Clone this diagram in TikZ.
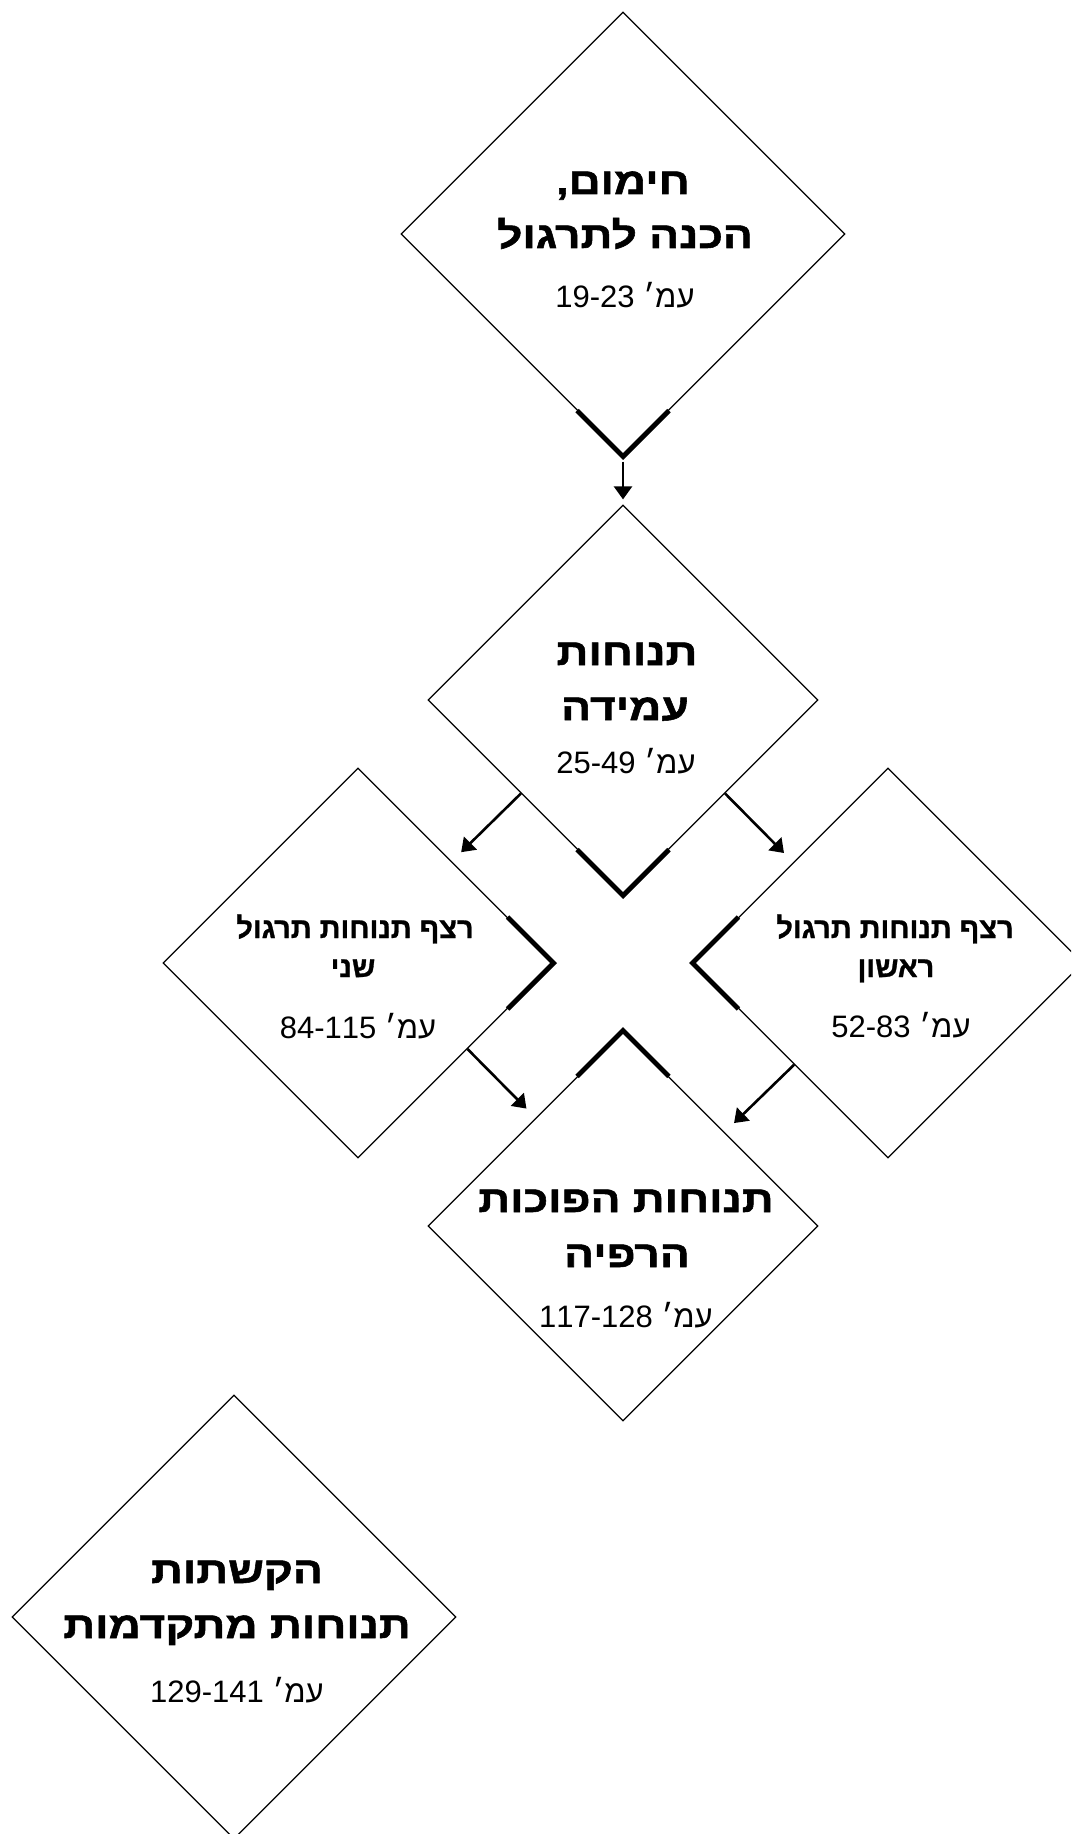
\documentclass[tikz,border=0pt]{standalone}
\usepackage{fontspec}
\newfontfamily\hebfont[Script=Hebrew]{Liberation Sans}
\newfontfamily\hebwide[Script=Hebrew, FakeStretch=1.2, FakeBold=1.5]{Liberation Sans}
\newfontfamily\hebheavy[Script=Hebrew, FakeBold=1]{Liberation Sans}
\TeXXeTstate=1
\usetikzlibrary{shapes.geometric,arrows.meta,calc}
\newcommand{\hebline}[1]{\beginR #1\endR}

\begin{document}
\begin{tikzpicture}[
  x=0.5pt, y=-0.5pt,
  >={Triangle[length=6.5pt,width=9pt]},
  stage/.style={diamond, aspect=1, draw=black, line width=0.6pt, inner sep=0pt},
  bigstage/.style={stage, minimum size=222pt},
  midstage/.style={stage, minimum size=195pt},
  headtxt/.style={anchor=base, inner sep=0pt, font=\hebwide\bfseries\fontsize{18.5pt}{20pt}\selectfont},
  smallhead/.style={headtxt, font=\hebheavy\bfseries\fontsize{14.5pt}{16pt}\selectfont},
  pages/.style={anchor=base, inner sep=0pt, font=\hebfont\fontsize{15.5pt}{17pt}\selectfont},
  flow/.style={->, line width=1.3pt, shorten >=6.5pt},
  cornermark/.style={line width=2.4pt, line join=miter}
]
  \useasboundingbox (0,0) rectangle (1071,1834);
  \clip (0,0) rectangle (1071,1834);

  % stages
  \node[bigstage] (warm) at (623,234) {};
  \node[midstage] (stand) at (623,700) {};
  \node[midstage] (seqtwo) at (358,963) {};
  \node[midstage] (seqone) at (888,963) {};
  \node[midstage] (relax) at (623,1226) {};
  \node[bigstage] (advanced) at (234,1617) {};

  % texts
  \node[headtxt] (warm-l1) at (623,194) {\hebline{חימום,}};
  \node[headtxt] (warm-l2) at (625,248) {\hebline{הכנה לתרגול}};
  \node[pages] (warm-pg) at (625,308) {\hebline{עמ׳ \beginL 19-23\endL}};

  \node[headtxt] (stand-l1) at (627,665) {\hebline{תנוחות}};
  \node[headtxt] (stand-l2) at (625,720) {\hebline{עמידה}};
  \node[pages] (stand-pg) at (626,773) {\hebline{עמ׳ \beginL 25-49\endL}};

  \node[smallhead] (seqtwo-l1) at (355,938) {\hebline{רצף תנוחות תרגול}};
  \node[smallhead] (seqtwo-l2) at (353,977) {\hebline{שני}};
  \node[pages] (seqtwo-pg) at (358,1038) {\hebline{עמ׳ \beginL 84-115\endL}};

  \node[smallhead] (seqone-l1) at (895,938) {\hebline{רצף תנוחות תרגול}};
  \node[smallhead] (seqone-l2) at (896,977) {\hebline{ראשון}};
  \node[pages] (seqone-pg) at (901,1037) {\hebline{עמ׳ \beginL 52-83\endL}};

  \node[headtxt] (relax-l1) at (626,1212) {\hebline{תנוחות הפוכות}};
  \node[headtxt] (relax-l2) at (627,1267) {\hebline{הרפיה}};
  \node[pages] (relax-pg) at (626,1327) {\hebline{עמ׳ \beginL 117-128\endL}};

  \node[headtxt] (advanced-l1) at (237,1583) {\hebline{הקשתות}};
  \node[headtxt] (advanced-l2) at (237,1638) {\hebline{תנוחות מתקדמות}};
  \node[pages] (advanced-pg) at (237,1702) {\hebline{עמ׳ \beginL 129-141\endL}};

  % thick corners
  \draw[cornermark] ($(warm.south)+(-46,-46)$) -- (warm.south) -- +(46,-46);
  \draw[cornermark] ($(stand.south)+(-46,-46)$) -- (stand.south) -- +(46,-46);
  \draw[cornermark] ($(seqtwo.east)+(-46,-46)$) -- (seqtwo.east) -- +(-46,46);
  \draw[cornermark] ($(seqone.west)+(46,-46)$) -- (seqone.west) -- +(46,46);
  \draw[cornermark] ($(relax.north)+(-46,46)$) -- (relax.north) -- +(46,46);

  % arrows
  \draw[flow, shorten <=2.5pt, shorten >=2.5pt] (warm.south) -- (stand.north);
  \draw[flow] ($(stand.west)!0.478!(stand.south)$) -- ($(seqtwo.north)!0.48!(seqtwo.east)$);
  \draw[flow] ($(stand.east)!0.478!(stand.south)$) -- ($(seqone.north)!0.485!(seqone.west)$);
  \draw[flow] ($(seqtwo.east)!0.44!(seqtwo.south)$) -- ($(relax.north)!0.447!(relax.west)$);
  \draw[flow] ($(seqone.west)!0.52!(seqone.south)$) -- ($(relax.north)!0.52!(relax.east)$);
\end{tikzpicture}
\end{document}
